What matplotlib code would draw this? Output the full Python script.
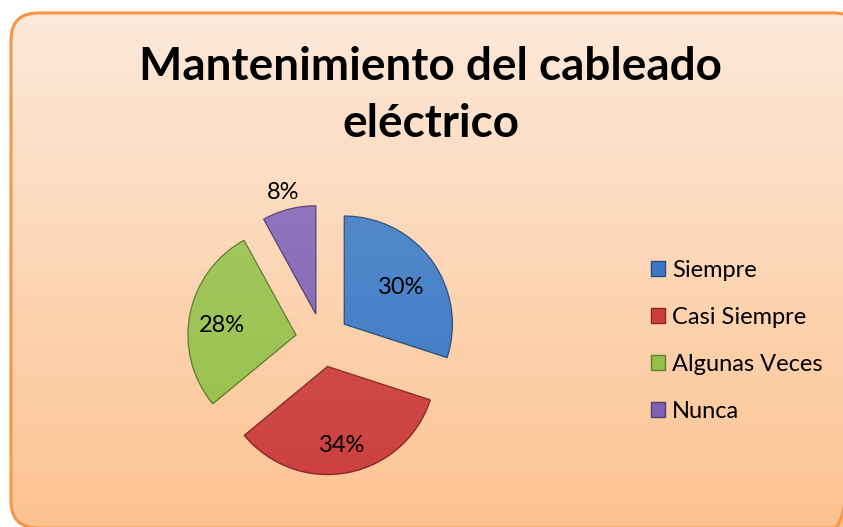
import numpy as np
import matplotlib.pyplot as plt
import matplotlib.colors as mcolors
from matplotlib.patches import FancyBboxPatch, Patch

# Datos del gráfico
categorias = ['Siempre', 'Casi Siempre', 'Algunas Veces', 'Nunca']
porcentajes = [30, 34, 28, 8]
colores = ['#3a78c3', '#cc3f3e', '#96c048', '#8060b3']
etiquetas = ['30%', '34%', '28%', '8%']
dist_etiqueta = [0.65, 0.70, 0.70, 1.20]
titulo = 'Mantenimiento del cableado\neléctrico'

plt.rcParams['font.family'] = ['Lato', 'DejaVu Sans']


def main():
    fig = plt.figure(figsize=(8.43, 5.27), dpi=100)

    # Fondo con degradado y borde redondeado
    bg = fig.add_axes([0, 0, 1, 1])
    bg.set_xlim(0, 843)
    bg.set_ylim(527, 0)
    bg.axis('off')
    top = np.array(mcolors.to_rgb('#fde9da'))
    bottom = np.array(mcolors.to_rgb('#fcc391'))
    t = np.linspace(0, 1, 256)[:, None, None]
    img = top + (bottom - top) * t
    box = FancyBboxPatch((11, 13), 850, 515, boxstyle='round,pad=0,rounding_size=27',
                         fc='none', ec='#f79646', lw=2.2, zorder=3)
    bg.add_patch(box)
    im = bg.imshow(img, extent=(11, 861, 528, 13), aspect='auto', zorder=1)
    im.set_clip_path(box)

    fig.text(0.511, 0.819, titulo, ha='center', va='center', fontsize=33,
             fontweight='bold', linespacing=1.45)

    # Pastel explotado
    ax = fig.add_axes([0.1904, 0.0474, 0.3843, 0.6148])
    wedges, _ = ax.pie(porcentajes, colors=colores, startangle=90, counterclock=False,
                       explode=[0.25] * 4, radius=1.0,
                       wedgeprops=dict(linewidth=1.0))
    # brillo suave en la parte superior de cada porción
    shade = np.linspace(1, 0, 128)[:, None, None]
    overlay = np.concatenate([np.ones((128, 1, 3)), 0.14 * shade], axis=2)
    for w, c in zip(wedges, colores):
        w.set_edgecolor(np.array(mcolors.to_rgb(c)) * 0.65)
        ov = ax.imshow(overlay, extent=(-1.5, 1.5, -1.5, 1.5), aspect='auto',
                       zorder=w.get_zorder() + 0.1)
        ov.set_clip_path(w)
    ax.set_xlim(-1.5, 1.5)
    ax.set_ylim(-1.5, 1.5)
    ax.set_aspect('equal')
    ax.axis('off')

    for w, lab, d in zip(wedges, etiquetas, dist_etiqueta):
        ang = np.deg2rad((w.theta1 + w.theta2) / 2)
        cx, cy = w.center
        ax.text(cx + d * np.cos(ang), cy + d * np.sin(ang) - 0.04, lab, ha='center',
                va='center', fontsize=17, zorder=5)

    handles = [Patch(facecolor=c, edgecolor=np.array(mcolors.to_rgb(c)) * 0.65, label=n)
               for c, n in zip(colores, categorias)]
    fig.legend(handles=handles, loc='center left', bbox_to_anchor=(0.772, 0.353),
               frameon=False, fontsize=17, handlelength=0.6, handleheight=0.6,
               handletextpad=0.3, labelspacing=1.1, borderpad=0, borderaxespad=0)

    fig.savefig('out.png', dpi=100)


if __name__ == '__main__':
    main()
